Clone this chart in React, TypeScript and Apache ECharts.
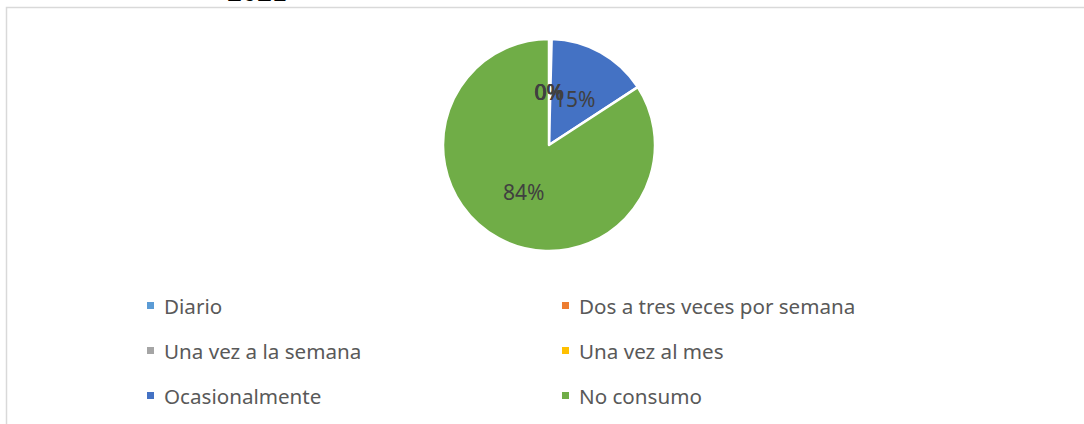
import React, { useEffect, useRef } from "react";
import * as echarts from "echarts";

const categories = [
  "Diario",
  "Dos a tres veces por semana",
  "Una vez a la semana",
  "Una vez al mes",
  "Ocasionalmente",
  "No consumo",
];
const values = [0, 0, 0, 0.4, 15.4, 84.2];
const colors = ["#5B9BD5", "#ED7D31", "#A5A5A5", "#FFC000", "#4472C4", "#70AD47"];
const leftColumn = ["Diario", "Una vez a la semana", "Ocasionalmente"];
const rightColumn = ["Dos a tres veces por semana", "Una vez al mes", "No consumo"];
const titleText = "2021";

const FONT = "'Noto Sans', sans-serif";
const CENTER: [number, number] = [549, 145];
const RADIUS = 106;

export default function App() {
  const ref = useRef<HTMLDivElement>(null);
  useEffect(() => {
    if (!ref.current) return;
    const chart = echarts.init(ref.current, undefined, { renderer: "svg" });
    const total = values.reduce((a, b) => a + b, 0);
    const legendCommon = {
      orient: "vertical" as const,
      icon: "rect",
      itemWidth: 9,
      itemHeight: 9,
      itemGap: 24,
      selectedMode: false,
      textStyle: {
        fontFamily: FONT,
        fontSize: 20.6,
        color: "#595959",
        lineHeight: 21,
        padding: [0, 0, 0, 4],
      },
    };
    chart.setOption({
      animation: false,
      backgroundColor: "#ffffff",
      color: colors,
      graphic: [
        {
          type: "rect",
          shape: { x: 6.5, y: 7.5, width: 1100, height: 430 },
          style: { fill: "none", stroke: "#D9D9D9", lineWidth: 1.5 },
          silent: true,
        },
        {
          type: "text",
          x: 227,
          y: -10,
          style: {
            text: titleText,
            font: "bold 30px 'Liberation Serif', serif",
            fill: "#000000",
            verticalAlign: "middle",
          },
        },
      ],
      legend: [
        { ...legendCommon, left: 140, top: 290, data: leftColumn },
        { ...legendCommon, left: 555, top: 290, data: rightColumn },
      ],
      series: [
        {
          type: "pie",
          center: CENTER,
          radius: [0, RADIUS],
          startAngle: 90,
          clockwise: true,
          avoidLabelOverlap: false,
          itemStyle: { borderColor: "#ffffff", borderWidth: 2.5 },
          label: { show: false },
          labelLine: { show: false },
          data: categories.map((name, i) => ({ name, value: values[i] })),
        },
        {
          type: "custom",
          coordinateSystem: "none",
          silent: true,
          z: 10,
          data: values.map((v, i) => [i, v]),
          renderItem: (params: any, api: any) => {
            const idx = params.dataIndex;
            let start = 0;
            for (let k = 0; k < idx; k++) start += values[k];
            const v = values[idx];
            const mid = ((start + v / 2) / total) * Math.PI * 2;
            const rr = RADIUS / 2;
            const x = CENTER[0] + rr * Math.sin(mid);
            const y = CENTER[1] - rr * Math.cos(mid);
            return {
              type: "text",
              x,
              y,
              z2: 10,
              style: {
                text: Math.round((v / total) * 100) + "%",
                font: "21px 'Noto Sans', sans-serif",
                fill: "#404040",
                align: "center",
                verticalAlign: "middle",
              },
            };
          },
        },
      ],
    });
    return () => chart.dispose();
  }, []);
  return (
    <div
      ref={ref}
      style={{ position: "fixed", left: 0, top: 0, width: 1084, height: 424 }}
    />
  );
}
